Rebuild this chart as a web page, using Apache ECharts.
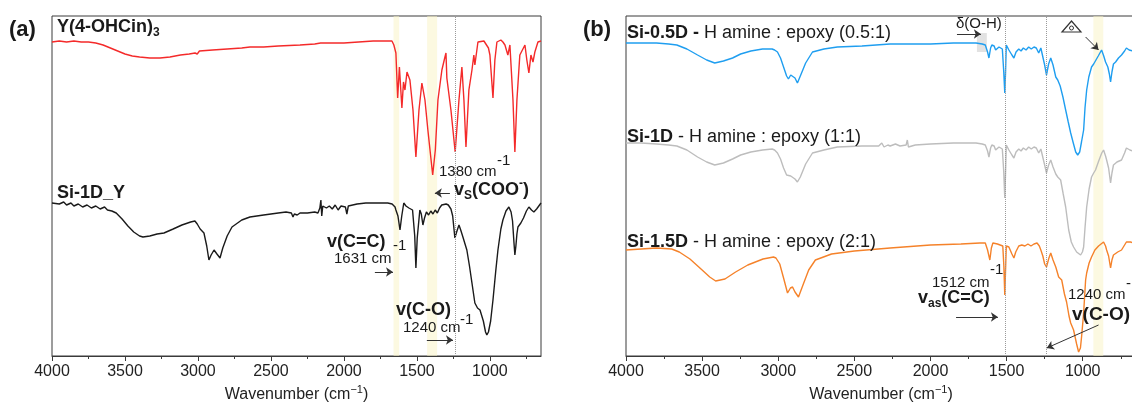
<!DOCTYPE html>
<html>
<head>
<meta charset="utf-8">
<title>FTIR spectra</title>
<script src="https://cdn.jsdelivr.net/npm/echarts@6/dist/echarts.min.js"></script>
<style>
	html, body { margin: 0; padding: 0; background: #fff; }
	#main { width: 1132px; height: 402px; }
</style>
</head>
<body>
<div id="main"></div>
<script>
// x axis ticks (cm-1)
var majorTicks = [1000, 1500, 2000, 2500, 3000, 3500, 4000];
var minorTicks = [750, 1250, 1750, 2250, 2750, 3250, 3750];

// (a) Y(4-OHCin)3 : [wavenumber, offset transmittance]
var yCin = [
	[4000,314],[3950,315],[3900,314],[3850,315],[3800,314],[3750,314],[3700,313],[3650,311],[3600,308],[3550,305],
	[3500,302],[3450,300],[3400,299],[3330,298],[3260,298],[3192,299],[3120,301],[3060,302],[3020,303],[3005,302],
	[2990,305],[2900,306],[2800,307],[2700,308],[2644,309],[2550,309],[2450,310],[2301,311],[2200,312],[2160,313],
	[2155,315],[2150,312],[2000,313],[1900,314],[1800,315],[1700,315],[1671,315],[1658,311],[1644,303],[1632,258],
	[1620,289],[1603,248],[1592,274],[1582,266],[1568,284],[1548,276],[1527,246],[1507,199],[1486,246],[1466,273],
	[1445,256],[1425,226],[1392,181],[1374,206],[1356,256],[1329,286],[1308,299],[1301,303],[1295,278],[1267,246],
	[1238,204],[1212,256],[1192,289],[1178,256],[1164,209],[1144,266],[1123,286],[1110,301],[1103,291],[1082,314],
	[1041,315],[1010,308],[1000,301],[979,258],[966,296],[952,314],[925,316],[911,314],[897,311],[877,301],
	[863,311],[842,256],[829,204],[815,256],[795,301],[760,311],[747,296],[733,283],[719,301],[705,294],
	[692,304],[671,314],[650,315]
];

// (a) Si-1D_Y
var si1dY = [
	[4000,153],[3950,152],[3920,154],[3900,151],[3870,153],[3850,150],[3820,152],[3790,149],[3760,151],[3730,148],
	[3700,150],[3670,147],[3640,149],[3620,146],[3590,145],[3560,143],[3520,137],[3480,130],[3440,124],[3400,120],
	[3377,119],[3330,120],[3280,122],[3233,123],[3170,127],[3110,131],[3050,134],[3021,135],[3005,132],[2985,127],
	[2959,123],[2940,110],[2925,96],[2910,101],[2890,106],[2870,102],[2849,98],[2830,108],[2800,120],[2767,129],
	[2700,136],[2644,139],[2550,141],[2450,143],[2397,144],[2360,143],[2349,139],[2340,142],[2320,141],[2301,143],
	[2250,143],[2200,144],[2178,143],[2165,148],[2158,156],[2152,140],[2145,150],[2120,148],[2100,150],[2080,147],
	[2060,151],[2040,146],[2020,150],[1990,149],[1980,142],[1970,150],[1940,151],[1910,152],[1850,153],[1780,153],
	[1700,153],[1670,152],[1650,149],[1644,146],[1630,140],[1616,126],[1604,140],[1590,153],[1575,150],[1555,148],
	[1530,146],[1515,120],[1507,88],[1498,118],[1480,146],[1470,142],[1459,131],[1448,138],[1435,144],[1420,141],
	[1405,145],[1390,142],[1375,146],[1360,143],[1345,148],[1330,151],[1322,153],[1300,152],[1285,151],[1267,147],
	[1255,140],[1240,118],[1228,124],[1212,131],[1200,126],[1185,119],[1158,106],[1140,90],[1123,73],[1103,53],
	[1085,48],[1068,46],[1045,35],[1030,24],[1021,21],[1010,24],[995,35],[979,56],[960,85],[945,106],
	[925,127],[911,136],[890,145],[870,149],[855,144],[845,135],[835,113],[829,101],[822,110],[815,122],
	[808,129],[788,133],[770,138],[750,145],[733,149],[715,146],[699,144],[680,147],[660,151],[650,153]
];

// (b) Si-0.5D
var si05d = [
	[4000,313],[3900,313],[3800,313],[3720,312],[3666,311],[3600,307],[3530,301],[3470,296],[3417,293],[3360,295],
	[3300,298],[3247,302],[3180,305],[3103,307],[3040,307],[3024,306],[3005,304],[2985,298],[2965,289],[2945,280],
	[2933,277],[2918,281],[2906,282],[2890,278],[2874,273],[2855,280],[2820,293],[2775,304],[2700,307],[2612,309],
	[2450,310],[2265,312],[2000,312],[1850,313],[1701,313],[1660,312],[1640,311],[1625,304],[1616,298],[1605,308],
	[1597,311],[1582,310],[1572,306],[1550,309],[1528,307],[1519,285],[1512,263],[1507,283],[1502,311],[1485,306],
	[1465,301],[1452,298],[1438,304],[1420,307],[1405,305],[1390,308],[1372,306],[1355,309],[1338,307],[1320,309],
	[1305,308],[1289,303],[1275,308],[1263,306],[1250,291],[1238,281],[1224,292],[1210,298],[1195,291],[1177,279],
	[1164,276],[1148,270],[1130,259],[1112,246],[1095,234],[1079,223],[1062,213],[1046,204],[1033,201],[1020,204],
	[1008,214],[994,226],[985,248],[974,266],[960,279],[942,289],[928,292],[916,294],[898,300],[876,306],
	[862,300],[850,294],[835,289],[825,282],[817,274],[808,284],[798,292],[784,294],[765,298],[745,301],
	[725,305],[713,308],[695,306],[670,305],[650,306]
];

// (b) Si-1D
var si1d = [
	[4000,213],[3900,213],[3800,212],[3720,211],[3666,210],[3600,206],[3530,199],[3470,194],[3417,191],[3360,193],
	[3300,197],[3247,201],[3180,204],[3103,206],[3040,207],[3024,206],[3005,203],[2985,197],[2965,188],[2945,181],
	[2933,181],[2918,180],[2906,179],[2890,177],[2874,174],[2855,179],[2820,192],[2775,203],[2700,206],[2612,209],
	[2450,210],[2340,210],[2320,213],[2305,209],[2280,211],[2265,210],[2230,212],[2200,210],[2160,211],[2152,216],
	[2145,209],[2100,211],[2000,212],[1850,213],[1701,213],[1660,212],[1640,211],[1625,205],[1616,199],[1605,208],
	[1597,211],[1582,210],[1572,206],[1550,209],[1528,207],[1519,185],[1512,158],[1507,182],[1502,211],[1485,206],
	[1465,201],[1452,198],[1438,204],[1420,207],[1405,205],[1390,208],[1372,206],[1355,209],[1338,207],[1320,209],
	[1305,208],[1289,203],[1275,207],[1263,205],[1250,191],[1238,183],[1224,191],[1210,196],[1195,189],[1177,182],
	[1164,179],[1145,176],[1128,162],[1112,149],[1092,126],[1075,114],[1060,109],[1040,104],[1014,101],[1002,104],
	[994,109],[985,128],[974,149],[958,167],[942,179],[928,183],[916,186],[895,195],[875,203],[863,206],
	[850,200],[843,196],[830,188],[817,173],[808,183],[798,191],[775,194],[745,196],[725,203],[713,208],
	[690,206],[670,205],[650,206]
];

// (b) Si-1.5D
var si15d = [
	[4000,106],[3900,107],[3800,108],[3700,107],[3650,104],[3580,97],[3500,86],[3450,79],[3411,75],[3350,77],
	[3280,84],[3200,91],[3100,97],[3031,99],[3015,98],[2990,92],[2965,78],[2939,63],[2920,68],[2906,69],
	[2890,64],[2867,59],[2840,70],[2800,86],[2756,96],[2650,102],[2500,105],[2265,108],[2000,111],[1800,112],
	[1675,113],[1640,113],[1625,106],[1610,96],[1600,108],[1590,113],[1560,112],[1525,110],[1518,90],[1512,61],
	[1507,85],[1502,110],[1485,109],[1465,102],[1452,98],[1440,104],[1420,110],[1400,111],[1380,110],[1360,112],
	[1340,110],[1320,112],[1300,113],[1285,110],[1275,106],[1262,100],[1250,92],[1238,89],[1222,98],[1210,103],
	[1195,96],[1177,89],[1158,79],[1138,76],[1120,62],[1106,54],[1090,40],[1079,33],[1060,26],[1040,12],
	[1027,4],[1015,8],[1007,20],[994,43],[981,76],[974,83],[958,93],[942,99],[920,106],[896,110],
	[863,114],[850,110],[843,106],[830,100],[817,88],[808,96],[798,101],[770,104],[745,106],[713,114],
	[686,114],[650,112]
];

// highlighted bands and marker lines (cm-1)
var bandsA = [[1660, 1622], [1430, 1362]];
var linesA = [1240];
var bandsB = [[930, 865]];
var linesB = [1512, 1240];

var FONT = 'Liberation Sans, Arial, sans-serif';
var AXIS_COLOR = '#3a3a3a';

/**
 * 两个 x 轴：主刻度+标签，次刻度
 */
function makeXAxes(gridIndex) {
	var major = {
		type: 'value', gridIndex: gridIndex, position: 'bottom',
		min: 650, max: 4000, inverse: true,
		splitLine: { show: false },
		axisLine: { show: true, lineStyle: { color: AXIS_COLOR, width: 1 } },
		axisTick: { show: true, inside: false, length: 5, customValues: majorTicks, lineStyle: { color: AXIS_COLOR } },
		axisLabel: {
			show: true, customValues: majorTicks, fontSize: 16, color: '#222', margin: 8, fontFamily: FONT,
			formatter: function(v) { return String(v); }
		},
		name: '{t|Wavenumber (cm}{s|\u22121}{t|)}',
		nameLocation: 'middle',
		nameGap: 28,
		nameTextStyle: {
			fontFamily: FONT,
			rich: {
				t: { fontSize: 16, color: '#222', fontFamily: FONT, lineHeight: 20 },
				s: { fontSize: 11, color: '#222', fontFamily: FONT, lineHeight: 10, verticalAlign: 'top' }
			}
		}
	};
	var minor = {
		type: 'value', gridIndex: gridIndex, position: 'bottom',
		min: 650, max: 4000, inverse: true,
		splitLine: { show: false },
		axisLine: { show: false },
		axisTick: { show: true, inside: false, length: 3, customValues: minorTicks, lineStyle: { color: AXIS_COLOR } },
		axisLabel: { show: false }
	};
	return [major, minor];
}

/**
 * 光谱曲线
 */
function lineSeries(name, data, color, xi, yi) {
	return {
		name: name, type: 'line', data: data,
		xAxisIndex: xi, yAxisIndex: yi,
		showSymbol: false, symbol: 'none', silent: true, z: 3,
		lineStyle: { color: color, width: 1.4 }
	};
}

/**
 * 黄色区域 + 虚线
 */
function decoSeries(xi, yi, bands, lines, extraAreas) {
	var areas = bands.map(function(b) {
		return [{ xAxis: b[0] }, { xAxis: b[1] }];
	});
	return {
		type: 'line', data: [], xAxisIndex: xi, yAxisIndex: yi, z: 1, silent: true,
		markArea: {
			silent: true,
			itemStyle: { color: 'rgba(250, 244, 195, 0.5)' },
			data: areas.concat(extraAreas || [])
		},
		markLine: {
			silent: true, symbol: 'none',
			label: { show: false },
			lineStyle: { color: '#9a9a9a', type: 'dotted', width: 1 },
			data: lines.map(function(v) { return { xAxis: v }; })
		}
	};
}

/**
 * 箭头
 */
function arrowSeries(xi, yi, arrows) {
	return {
		type: 'line', data: [], xAxisIndex: xi, yAxisIndex: yi, z: 4, silent: true,
		markLine: {
			silent: true,
			symbol: ['none', 'arrow'],
			symbolSize: 7,
			label: { show: false },
			lineStyle: { color: '#333', type: 'solid', width: 1 },
			data: arrows.map(function(a) {
				return [{ coord: a[0] }, { coord: a[1] }];
			})
		}
	};
}

/**
 * 文本
 */
function txt(x, y, text, size, bold, rich) {
	return {
		type: 'text', x: x, y: y, z: 10, silent: true,
		style: {
			text: text, fill: '#1a1a1a',
			fontSize: size, fontWeight: bold ? 'bold' : 'normal', fontFamily: FONT,
			align: 'left', verticalAlign: 'middle',
			rich: rich
		}
	};
}

var richSub = {
	b: { fontSize: 18, fontWeight: 'bold', fontFamily: FONT, fill: '#1a1a1a', lineHeight: 24 },
	r: { fontSize: 18, fontFamily: FONT, fill: '#1a1a1a', lineHeight: 24 },
	sub: { fontSize: 12, fontWeight: 'bold', fontFamily: FONT, fill: '#1a1a1a', lineHeight: 12, verticalAlign: 'bottom' },
	sup: { fontSize: 12, fontWeight: 'bold', fontFamily: FONT, fill: '#1a1a1a', lineHeight: 12, verticalAlign: 'top' }
};

var chart = echarts.init(document.getElementById('main'), null, { renderer: 'canvas' });

var option = {
	animation: false,
	backgroundColor: '#fff',
	grid: [
		{
			left: 52, top: 16, width: 489, height: 340, outerBoundsMode: 'none',
			show: true, borderColor: AXIS_COLOR, borderWidth: 1, backgroundColor: 'transparent'
		},
		{
			left: 626, top: 16, width: 510, height: 340, outerBoundsMode: 'none',
			show: true, borderColor: AXIS_COLOR, borderWidth: 1, backgroundColor: 'transparent'
		}
	],
	xAxis: makeXAxes(0).concat(makeXAxes(1)),
	yAxis: [
		{ type: 'value', gridIndex: 0, min: 0, max: 340, show: false },
		{ type: 'value', gridIndex: 1, min: 0, max: 340, show: false }
	],
	series: [
		decoSeries(0, 0, bandsA, linesA),
		lineSeries('Y(4-OHCin)3', yCin, '#f42a2a', 0, 0),
		lineSeries('Si-1D_Y', si1dY, '#1a1a1a', 0, 0),
		arrowSeries(0, 0, [
			[[1274, 163], [1377, 163]],
			[[1788, 84], [1664, 84]],
			[[1432, 16], [1253, 16]]
		]),
		decoSeries(2, 1, bandsB, linesB, [
			[{ coord: [1695, 323], itemStyle: { color: '#e2e2e2' } }, { coord: [1630, 304] }]
		]),
		lineSeries('Si-1D', si1d, '#bdbdbd', 2, 1),
		lineSeries('Si-1.5D', si15d, '#f5822a', 2, 1),
		lineSeries('Si-0.5D', si05d, '#1f9ef0', 2, 1),
		arrowSeries(2, 1, [
			[[1826, 322], [1669, 322]],
			[[981, 319], [896, 306]],
			[[1832, 39], [1557, 39]],
			[[896, 31], [1236, 8]]
		])
	],
	graphic: [
		// (a)
		txt(9, 30, '(a)', 22, true),
		txt(57, 27, '{b|Y(4-OHCin)}{sub|3}', 18, true, richSub),
		txt(57, 193, 'Si-1D_Y', 18, true),
		txt(439, 172, '1380 cm', 15, false),
		txt(497, 161, '-1', 15, false),
		txt(454, 190, '{b|v}{sub|S}{b|(COO}{sup|-}{b|)}', 18, true, richSub),
		txt(327, 242, 'v(C=C)', 18, true),
		txt(393, 246, '-1', 15, false),
		txt(334, 259, '1631 cm', 15, false),
		txt(396, 310, 'v(C-O)', 18, true),
		txt(460, 320, '-1', 15, false),
		txt(403, 328, '1240 cm', 15, false),
		// (b)
		txt(583, 30, '(b)', 22, true),
		txt(627, 33, '{b|Si-0.5D -} {r|H amine : epoxy (0.5:1)}', 18, false, richSub),
		txt(627, 137, '{b|Si-1D} {r|- H amine : epoxy (1:1)}', 18, false, richSub),
		txt(627, 242, '{b|Si-1.5D} {r|- H amine : epoxy (2:1)}', 18, false, richSub),
		txt(956, 24, '\u03b4(O-H)', 15, false),
		txt(932, 283, '1512 cm', 15, false),
		txt(990, 270, '-1', 15, false),
		txt(918, 298, '{b|v}{sub|as}{b|(C=C)}', 18, true, richSub),
		txt(1068, 295, '1240 cm', 15, false),
		txt(1126, 284, '-1', 15, false),
		txt(1072, 315, 'v(C-O)', 19, true),
		{
			type: 'polygon', z: 10, silent: true,
			shape: { points: [[1062, 32], [1071.5, 21], [1081, 32]] },
			style: { fill: 'none', stroke: '#333', lineWidth: 1.2 }
		},
		{
			type: 'circle', z: 10, silent: true,
			shape: { cx: 1071.5, cy: 28, r: 2 },
			style: { fill: 'none', stroke: '#333', lineWidth: 1 }
		}
	]
};

chart.setOption(option);
</script>
</body>
</html>
